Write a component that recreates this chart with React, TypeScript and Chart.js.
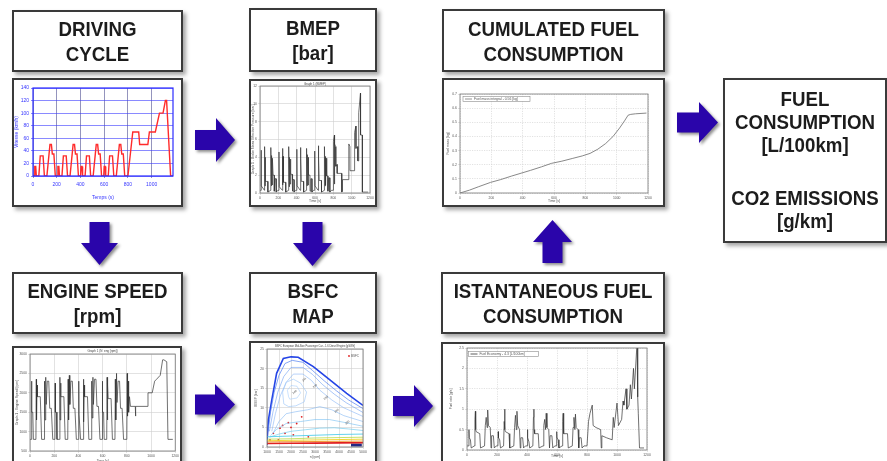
import React, { useEffect, useRef } from 'react';
import { Chart, registerables } from 'chart.js';

Chart.register(...registerables);

const FONT = '"Liberation Sans", Arial, Helvetica, sans-serif';

/* ---------------- DRIVING CYCLE (NEDC) ---------------- */
const cycleTime = [
  0, 11, 15, 23, 28, 49, 61, 85, 96, 117, 143, 155, 163, 176, 188,
  195, 206, 210, 218, 223, 244, 256, 280, 291, 312, 338, 350, 358, 371, 383,
  390, 401, 405, 413, 418, 439, 451, 475, 486, 507, 533, 545, 553, 566, 578,
  585, 596, 600, 608, 613, 634, 646, 670, 681, 702, 728, 740, 748, 761, 773,
  780, 800, 841, 891, 899, 968, 981, 1031, 1066, 1096, 1116, 1126, 1160, 1180,
];
const cycleSpeed = [
  0, 0, 15, 15, 0, 0, 32, 32, 0, 0, 50, 50, 35, 35, 0,
  0, 0, 15, 15, 0, 0, 32, 32, 0, 0, 50, 50, 35, 35, 0,
  0, 0, 15, 15, 0, 0, 32, 32, 0, 0, 50, 50, 35, 35, 0,
  0, 0, 15, 15, 0, 0, 32, 32, 0, 0, 50, 50, 35, 35, 0,
  0, 0, 70, 70, 50, 50, 70, 70, 100, 100, 120, 120, 0, 0,
];
const cycleXTicks = [0, 200, 400, 600, 800, 1000];
const cycleXLabels = ['0', '200', '400', '600', '800', '1000'];
const cycleYTicks = [0, 20, 40, 60, 80, 100, 120, 140];
const cycleYLabels = ['0', '20', '40', '60', '80', '100', '120', '140'];

/* ---------------- COMMON TIME AXIS ---------------- */
const timeTicks = [0, 200, 400, 600, 800, 1000, 1200];
const timeLabels = ['0', '200', '400', '600', '800', '1000', '1200'];

/* ---------------- BMEP ---------------- */
const bmepTime = [
  0, 11, 12, 15, 49, 50, 55, 56, 61, 85, 86, 117, 118, 125, 126, 134, 135, 143, 155, 156, 164, 176, 177,
  195, 206, 207, 210, 244, 245, 250, 251, 256, 280, 281, 312, 313, 320, 321, 329, 330, 338, 350, 351, 359, 371, 372,
  390, 401, 402, 405, 439, 440, 445, 446, 451, 475, 476, 507, 508, 515, 516, 524, 525, 533, 545, 546, 554, 566, 567,
  585, 596, 597, 600, 634, 635, 640, 641, 646, 670, 671, 702, 703, 710, 711, 719, 720, 728, 740, 741, 749, 761, 762,
  780, 800, 801, 812, 813, 814, 826, 827, 841, 842, 891, 892, 899, 900, 968, 969, 981, 982, 1031, 1032, 1046, 1047, 1066, 1067, 1076, 1077, 1096, 1097, 1116, 1117, 1180,
];
const bmepBar = [
  0.3, 0.3, 4.8, 0.8, 0.3, 5.2, 0.8, 4.0, 1.3, 1.3, 0.1, 0.3, 5.1, 0.8, 4.2, 0.9, 3.9, 2.0, 2.0, 0.2, 1.6, 1.6, 0.1,
  0.3, 0.3, 4.6, 0.7, 0.3, 5.0, 0.9, 4.1, 1.2, 1.2, 0.1, 0.3, 5.2, 0.7, 4.0, 1.0, 3.8, 2.1, 2.1, 0.2, 1.5, 1.5, 0.1,
  0.3, 0.3, 4.9, 0.8, 0.3, 5.1, 0.8, 3.9, 1.3, 1.3, 0.1, 0.3, 5.0, 0.8, 4.3, 0.9, 4.0, 2.0, 2.0, 0.2, 1.6, 1.6, 0.1,
  0.3, 0.3, 4.7, 0.8, 0.3, 5.3, 0.8, 4.0, 1.4, 1.4, 0.1, 0.3, 5.2, 0.8, 4.1, 0.9, 3.9, 1.9, 1.9, 0.2, 1.7, 1.7, 0.1,
  0.3, 0.3, 5.8, 6.5, 1.0, 5.5, 5.2, 3.0, 3.2, 2.2, 2.2, 0.1, 0.2, 1.5, 1.5, 5.5, 5.2, 2.5, 2.5, 6.8, 7.5, 5.0, 5.2, 3.6, 3.6, 9.0, 11.2, 6.5, 6.5, 0.1, 0.1,
];
const bmepYTicks = [0, 2, 4, 6, 8, 10, 12];
const bmepYLabels = ['0', '2', '4', '6', '8', '10', '12'];

/* ---------------- CUMULATED FUEL ---------------- */
const cumTime = [0, 60, 120, 195, 260, 330, 390, 450, 520, 585, 650, 720, 780, 830, 880, 930, 977, 1019, 1050, 1073, 1090, 1120, 1190];
const cumFuelKg = [0, 0.02, 0.045, 0.075, 0.095, 0.12, 0.14, 0.16, 0.185, 0.21, 0.225, 0.245, 0.262, 0.28, 0.31, 0.35, 0.4, 0.46, 0.51, 0.55, 0.556, 0.56, 0.565];
const cumYTicks = [0, 0.1, 0.2, 0.3, 0.4, 0.5, 0.6, 0.7];
const cumYLabels = ['0', '0.1', '0.2', '0.3', '0.4', '0.5', '0.6', '0.7'];

/* ---------------- ENGINE SPEED ---------------- */
const engTime = [
  0, 11, 13, 15, 23, 28, 49, 52, 54, 58, 61, 85, 96, 117, 120, 124, 130, 134, 143, 155, 163, 176, 188,
  195, 206, 208, 210, 218, 223, 244, 247, 249, 253, 256, 280, 291, 312, 315, 319, 325, 329, 338, 350, 358, 371, 383,
  390, 401, 403, 405, 413, 418, 439, 442, 444, 448, 451, 475, 486, 507, 510, 514, 520, 524, 533, 545, 553, 566, 578,
  585, 596, 598, 600, 608, 613, 634, 637, 639, 643, 646, 670, 681, 702, 705, 709, 715, 719, 728, 740, 748, 761, 773,
  780, 800, 803, 806, 812, 815, 822, 830, 870, 872, 874, 968, 975, 1010, 1030, 1046, 1076, 1096, 1106, 1130, 1140, 1180,
];
const engRpm = [
  800, 800, 2300, 1500, 1500, 800, 800, 2350, 1300, 2200, 1900, 1900, 800, 800, 2300, 1300, 2400, 1700, 2300, 2300, 1600, 1600, 800,
  800, 800, 2250, 1500, 1500, 800, 800, 2400, 1300, 2250, 1900, 1900, 800, 800, 2350, 1300, 2450, 1700, 2300, 2300, 1600, 1600, 800,
  800, 800, 2300, 1450, 1450, 800, 800, 2350, 1250, 2200, 1900, 1900, 800, 800, 2300, 1350, 2400, 1700, 2350, 2350, 1650, 1650, 800,
  800, 800, 2300, 1500, 1500, 800, 800, 2400, 1300, 2200, 1850, 1850, 800, 800, 2350, 1300, 2500, 1750, 2300, 2300, 1600, 1600, 800,
  800, 800, 2500, 1400, 2300, 1500, 1900, 1650, 1650, 1400, 1650, 1650, 2000, 2000, 2300, 2350, 2450, 2850, 2850, 2800, 800, 800,
];
const engYTicks = [500, 1000, 1500, 2000, 2500, 3000];
const engYLabels = ['500', '1000', '1500', '2000', '2500', '3000'];

/* ---------------- BSFC MAP ---------------- */
const fullLoadRpm = [1000, 1000, 1060, 1200, 1400, 1680, 2000, 2300, 2930, 3620, 4320, 5000];
const fullLoadBmep = [0.5, 1.4, 6.9, 12, 18.8, 22.6, 23, 22.9, 20.5, 17.1, 13.7, 10.6];
const iso1Rpm = [1050, 1150, 1300, 1500, 1750, 2050, 2500, 2900, 3400, 3900, 4400, 5000];
const iso1Bmep = [4, 9, 14, 18.3, 21.3, 22.1, 21.6, 19.5, 16.8, 14.3, 12, 9.8];
const iso2Rpm = [1100, 1250, 1450, 1700, 2000, 2500, 2900, 3300, 3800, 4300, 5000];
const iso2Bmep = [4, 9, 14, 18, 20.3, 20.3, 18.5, 16, 13.5, 11.3, 8.8];
const iso3Rpm = [1200, 1350, 1550, 1800, 2100, 2500, 2850, 3200, 3700, 4200, 5000];
const iso3Bmep = [4, 8.5, 13, 16.5, 18.6, 18.6, 17, 14.5, 12, 10, 7.8];
const iso4Rpm = [1700, 1650, 1800, 2100, 2400, 2650, 2550, 2200, 1900, 1700];
const iso4Bmep = [11, 14, 16.5, 17.3, 16.3, 14, 11.5, 10.5, 10.3, 11];
const iso5Rpm = [1900, 1850, 2000, 2250, 2400, 2250, 1950, 1900];
const iso5Bmep = [12.8, 14.5, 15.7, 15.5, 13.8, 12.5, 12.2, 12.8];
const iso6Rpm = [1250, 1500, 1800, 2200, 2700, 3200, 3700, 4200, 5000];
const iso6Bmep = [3.5, 6.5, 8.5, 9, 9.5, 10.3, 9.5, 8, 6.5];
const iso7Rpm = [1150, 1400, 1800, 2400, 3000, 3600, 4200, 5000];
const iso7Bmep = [2.9, 4.5, 6, 6.5, 7, 7, 6.3, 5.3];
const iso8Rpm = [1100, 1500, 2000, 2600, 3200, 3800, 4400, 5000];
const iso8Bmep = [2.5, 3.3, 4, 4.4, 4.8, 4.9, 4.6, 4.2];
const lowRpm = [1000, 2000, 3000, 4000, 5000];
const lowCyanBmep = [2.6, 2.8, 3.0, 3.2, 3.3];
const lowGreenBmep = [2.0, 2.1, 2.3, 2.4, 2.5];
const lowYellowBmep = [1.6, 1.7, 1.8, 1.9, 2.0];
const lowOrangeBmep = [1.3, 1.35, 1.4, 1.45, 1.5];
const lowRedBmep = [0.9, 0.95, 1.0, 1.05, 1.1];
const idleBandRpm = [4500, 4950];
const idleBandBmep = [0.5, 0.5];
const pointRpm = [1125, 1264, 1472, 1542, 1750, 1889, 2097, 2236, 2445, 2722, 2000, 1650];
const pointBmep = [1.8, 3.5, 1.8, 4.8, 3.5, 6.2, 3.1, 6.0, 7.7, 2.6, 5.0, 5.5];
const isoLabelText = ['240', '245', '250', '260', '280', '300'];
const isoLabelRpm = [2150, 2550, 3000, 3450, 3900, 4350];
const isoLabelBmep = [14, 17.2, 15.5, 12.5, 9.2, 6.2];
const mapXTicks = [1000, 1500, 2000, 2500, 3000, 3500, 4000, 4500, 5000];
const mapXLabels = ['1000', '1500', '2000', '2500', '3000', '3500', '4000', '4500', '5000'];
const mapYTicks = [0, 5, 10, 15, 20, 25];
const mapYLabels = ['0', '5', '10', '15', '20', '25'];

/* ---------------- INSTANTANEOUS FUEL ---------------- */
const instTime = [
  0, 11, 13, 15, 23, 28, 49, 53, 56, 58, 61, 85, 90, 117, 122, 128, 134, 138, 143, 155, 160, 164, 176, 182,
  195, 206, 208, 210, 218, 223, 244, 248, 251, 253, 256, 280, 285, 312, 317, 323, 329, 333, 338, 350, 355, 359, 371, 377,
  390, 401, 403, 405, 413, 418, 439, 443, 446, 448, 451, 475, 480, 507, 512, 518, 524, 528, 533, 545, 550, 554, 566, 572,
  585, 596, 598, 600, 608, 613, 634, 638, 641, 643, 646, 670, 675, 702, 707, 713, 719, 723, 728, 740, 745, 749, 761, 767,
  780, 800, 810, 820, 835, 841, 860, 891, 895, 899, 930, 968, 975, 981, 1000, 1010, 1031, 1040, 1046, 1060, 1066, 1080, 1089, 1096, 1110, 1116, 1130, 1134, 1138, 1142, 1150, 1180,
];
const instRate = [
  0.1, 0.1, 0.5, 0.3, 0.25, 0.05, 0.1, 0.75, 0.95, 0.5, 0.45, 0.4, 0.05, 0.1, 0.6, 0.8, 0.55, 0.98, 0.6, 0.55, 0.05, 0.35, 0.35, 0.05,
  0.1, 0.1, 0.45, 0.3, 0.25, 0.05, 0.1, 0.7, 1.0, 0.5, 0.45, 0.4, 0.05, 0.1, 0.55, 0.85, 0.5, 0.95, 0.6, 0.5, 0.05, 0.3, 0.3, 0.05,
  0.1, 0.1, 0.5, 0.3, 0.2, 0.05, 0.1, 0.8, 1.0, 0.5, 0.4, 0.4, 0.05, 0.1, 0.6, 0.75, 0.5, 0.9, 0.55, 0.5, 0.05, 0.35, 0.35, 0.05,
  0.1, 0.1, 0.45, 0.3, 0.25, 0.05, 0.1, 0.7, 0.9, 0.45, 0.4, 0.4, 0.05, 0.1, 0.55, 0.8, 0.5, 0.88, 0.55, 0.5, 0.05, 0.3, 0.3, 0.05,
  0.1, 0.1, 0.7, 0.9, 1.1, 0.6, 0.55, 0.5, 0.05, 0.35, 0.3, 0.25, 0.8, 0.55, 1.15, 0.6, 0.75, 1.2, 1.1, 1.5, 1.0, 1.1, 1.6, 1.25, 2.0, 1.5, 2.4, 2.55, 1.3, 0.9, 0.05, 0.05,
];
const instYTicks = [0, 0.5, 1, 1.5, 2, 2.5];
const instYLabels = ['0', '0.5', '1', '1.5', '2', '2.5'];

/* ---------------- helpers ---------------- */
const xy = (xs: number[], ys: number[]) => xs.map((x, i) => ({ x, y: ys[i] }));

const line = (xs: number[], ys: number[], color: string, width: number) => ({
  data: xy(xs, ys),
  showLine: true,
  borderColor: color,
  backgroundColor: color,
  borderWidth: width,
  pointRadius: 0,
  fill: false,
  tension: 0,
});

type Plot = { l: number; t: number; r: number; b: number };
type Style = {
  tick: string; gridX: string; gridY: string; frame: string; frameW: number;
  fs: number; dash: number[]; padX: number; padY: number; titleX: number; titleY: number;
};
type AxisSpec = { min: number; max: number; ticks: number[]; labels: string[]; title: string };

function axis(kind: 'x' | 'y', a: AxisSpec, st: Style, fit: (s: any) => void) {
  return {
    type: 'linear',
    position: kind === 'x' ? 'bottom' : 'left',
    min: a.min,
    max: a.max,
    afterBuildTicks: (s: any) => { s.ticks = a.ticks.map((v) => ({ value: v })); },
    afterFit: fit,
    ticks: {
      color: st.tick,
      font: { size: st.fs, family: FONT },
      padding: kind === 'x' ? st.padX : st.padY,
      autoSkip: false,
      maxRotation: 0,
      minRotation: 0,
      callback: (_v: any, i: number) => a.labels[i],
    },
    grid: { color: kind === 'x' ? st.gridX : st.gridY, lineWidth: 0.6, tickLength: 2 },
    border: { display: false, dash: st.dash },
    title: {
      display: a.title !== '',
      text: a.title,
      color: st.tick,
      font: { size: st.fs, family: FONT },
      padding: kind === 'x' ? { top: 0, bottom: st.titleX } : { top: st.titleY, bottom: 0 },
    },
  };
}

function txt(ctx: CanvasRenderingContext2D, s: string, x: number, y: number, size: number, color: string, align: CanvasTextAlign = 'center', rot = 0) {
  ctx.save();
  ctx.translate(x, y);
  if (rot) ctx.rotate(rot);
  ctx.font = `${size}px ${FONT}`;
  ctx.fillStyle = color;
  ctx.textAlign = align;
  ctx.textBaseline = 'middle';
  ctx.fillText(s, 0, 0);
  ctx.restore();
}

function legendBox(ctx: CanvasRenderingContext2D, x: number, y: number, w: number, h: number, label: string, color: string) {
  ctx.save();
  ctx.fillStyle = '#fff';
  ctx.fillRect(x, y, w, h);
  ctx.strokeStyle = '#8a8a8a';
  ctx.lineWidth = 0.6;
  ctx.strokeRect(x, y, w, h);
  ctx.strokeStyle = color;
  ctx.lineWidth = 0.8;
  ctx.beginPath();
  ctx.moveTo(x + 2, y + h / 2);
  ctx.lineTo(x + 9, y + h / 2);
  ctx.stroke();
  ctx.restore();
  txt(ctx, label, x + 11, y + h / 2, 3.4, '#555', 'left');
}

function makeConfig(w: number, h: number, p: Plot, datasets: any[], xs: AxisSpec, ys: AxisSpec, st: Style, decor?: (c: any) => void) {
  return {
    type: 'scatter',
    data: { datasets },
    options: {
      responsive: false,
      animation: false,
      devicePixelRatio: 1,
      events: [],
      layout: { padding: { left: 0, top: p.t, right: w - p.r, bottom: 0 }, autoPadding: false },
      plugins: { legend: { display: false }, tooltip: { enabled: false } },
      scales: {
        x: axis('x', xs, st, (s: any) => { s.height = h - p.b; }),
        y: axis('y', ys, st, (s: any) => { s.width = p.l; }),
      },
    },
    plugins: [
      {
        id: 'decor',
        afterDraw(c: any) {
          const a = c.chartArea;
          const ctx = c.ctx;
          ctx.save();
          ctx.strokeStyle = st.frame;
          ctx.lineWidth = st.frameW;
          ctx.strokeRect(a.left, a.top, a.right - a.left, a.bottom - a.top);
          ctx.restore();
          if (decor) decor(c);
        },
      },
    ],
  } as any;
}

function MiniChart({ left, top, width, height, make }: { left: number; top: number; width: number; height: number; make: (w: number, h: number) => any }) {
  const ref = useRef<HTMLCanvasElement>(null);
  useEffect(() => {
    const chart = new Chart(ref.current as HTMLCanvasElement, make(width, height));
    return () => chart.destroy();
  }, []);
  return (
    <canvas
      ref={ref}
      width={width}
      height={height}
      style={{ position: 'absolute', left, top, width, height, display: 'block' }}
    />
  );
}

/* ---------------- chart builders ---------------- */
const grayStyle = (dash: number[], titleX: number, titleY: number): Style => ({
  tick: '#555', gridX: '#cfcfcf', gridY: '#cfcfcf', frame: '#777', frameW: 0.8,
  fs: 3.4, dash, padX: 1, padY: 1, titleX, titleY,
});

const buildCycle = (w: number, h: number) =>
  makeConfig(
    w, h, { l: 19, t: 8, r: 159, b: 96 },
    [line(cycleTime, cycleSpeed, '#ff2b2b', 1.4)],
    { min: 0, max: 1180, ticks: cycleXTicks, labels: cycleXLabels, title: 'Temps (s)' },
    { min: 0, max: 140, ticks: cycleYTicks, labels: cycleYLabels, title: 'Vitesse (km/h)' },
    { tick: '#3535ff', gridX: '#4c4c90', gridY: '#3b3bff', frame: '#2c2cff', frameW: 1.2, fs: 5, dash: [], padX: 4, padY: 2, titleX: 4, titleY: 0 },
  );

const buildBmep = (w: number, h: number) =>
  makeConfig(
    w, h, { l: 9, t: 5, r: 119, b: 112 },
    [line(bmepTime, bmepBar, '#333', 0.7)],
    { min: 0, max: 1200, ticks: timeTicks, labels: timeLabels, title: 'Time [s]' },
    { min: 0, max: 12, ticks: bmepYTicks, labels: bmepYLabels, title: 'Graph 1 - Brake Mean Effective Pressure [bar]' },
    grayStyle([], 2, 0),
    (c) => {
      const a = c.chartArea;
      txt(c.ctx, 'Graph 1 (BMEP)', (a.left + a.right) / 2, a.top - 2.3, 3, '#444');
    },
  );

const buildCum = (w: number, h: number) =>
  makeConfig(
    w, h, { l: 16, t: 14, r: 204, b: 113 },
    [line(cumTime, cumFuelKg, '#7a7a7a', 0.9)],
    { min: 0, max: 1200, ticks: timeTicks, labels: timeLabels, title: 'Time [s]' },
    { min: 0, max: 0.7, ticks: cumYTicks, labels: cumYLabels, title: 'Fuel mass [kg]' },
    grayStyle([1.2, 1.2], 2, 2),
    (c) => {
      const a = c.chartArea;
      legendBox(c.ctx, a.left + 3, a.top + 2.5, 67, 5, 'Fuel mass integral - 0.56 [kg]', '#7a7a7a');
    },
  );

const buildEngine = (w: number, h: number) =>
  makeConfig(
    w, h, { l: 16, t: 6, r: 163, b: 103 },
    [line(engTime, engRpm, '#333', 0.7)],
    { min: 0, max: 1200, ticks: timeTicks, labels: timeLabels, title: 'Time [s]' },
    { min: 500, max: 3000, ticks: engYTicks, labels: engYLabels, title: 'Graph 1 - Engine Speed [rpm]' },
    grayStyle([], 10, 1),
    (c) => {
      const a = c.chartArea;
      txt(c.ctx, 'Graph 1 (N_eng [rpm])', (a.left + a.right) / 2, a.top - 3, 3, '#444');
    },
  );

const buildBsfc = (w: number, h: number) =>
  makeConfig(
    w, h, { l: 16, t: 6, r: 112, b: 104 },
    [
      line(lowRpm, lowCyanBmep, '#3cc8e8', 0.8),
      line(lowRpm, lowGreenBmep, '#b8dc48', 0.8),
      line(lowRpm, lowYellowBmep, '#f2d21e', 0.9),
      line(lowRpm, lowOrangeBmep, '#f08a20', 0.9),
      line(lowRpm, lowRedBmep, '#e02020', 1.6),
      line(idleBandRpm, idleBandBmep, '#232a86', 3),
      line(iso8Rpm, iso8Bmep, '#62c6ec', 0.6),
      line(iso7Rpm, iso7Bmep, '#74bdf2', 0.6),
      line(iso6Rpm, iso6Bmep, '#84b8f4', 0.6),
      line(iso5Rpm, iso5Bmep, '#a8cffb', 0.6),
      line(iso4Rpm, iso4Bmep, '#98c4f8', 0.6),
      line(iso3Rpm, iso3Bmep, '#88b6f6', 0.6),
      line(iso2Rpm, iso2Bmep, '#6e9ff3', 0.6),
      line(iso1Rpm, iso1Bmep, '#527ff0', 0.7),
      line(fullLoadRpm, fullLoadBmep, '#2444e6', 1.6),
      {
        data: xy(pointRpm, pointBmep),
        showLine: false,
        pointRadius: 0.9,
        pointBackgroundColor: '#e02020',
        pointBorderColor: '#e02020',
        pointBorderWidth: 0,
      },
    ],
    { min: 1000, max: 5000, ticks: mapXTicks, labels: mapXLabels, title: 'n [rpm]' },
    { min: 0, max: 25, ticks: mapYTicks, labels: mapYLabels, title: 'BMEP [bar]' },
    grayStyle([], 14, 3),
    (c) => {
      const a = c.chartArea;
      const ctx = c.ctx;
      txt(ctx, 'BSFC European Mid-Size Passenger Car - 1.6 Diesel Engine [g/kWh]', (a.left + a.right) / 2, a.top - 3, 2.6, '#444');
      ctx.save();
      ctx.fillStyle = '#e02020';
      ctx.beginPath();
      ctx.arc(a.right - 14, a.top + 7, 0.9, 0, Math.PI * 2);
      ctx.fill();
      ctx.restore();
      txt(ctx, 'BSFC', a.right - 12, a.top + 7, 3, '#555', 'left');
      isoLabelText.forEach((s, i) => {
        txt(ctx, s, c.scales.x.getPixelForValue(isoLabelRpm[i]), c.scales.y.getPixelForValue(isoLabelBmep[i]), 2.8, '#555', 'center', -0.7);
      });
    },
  );

const buildInst = (w: number, h: number) =>
  makeConfig(
    w, h, { l: 24, t: 4, r: 204, b: 106 },
    [line(instTime, instRate, '#333', 0.7)],
    { min: 0, max: 1200, ticks: timeTicks, labels: timeLabels, title: 'Time [s]' },
    { min: 0, max: 2.5, ticks: instYTicks, labels: instYLabels, title: 'Fuel rate [g/s]' },
    grayStyle([1.2, 1.2], 15, 6),
    (c) => {
      const a = c.chartArea;
      legendBox(c.ctx, a.left + 1.5, a.top + 3.5, 70, 5, 'Fuel Economy - 4.3 [L/100km]', '#333');
    },
  );

/* ---------------- layout components ---------------- */
const boxStyle = (x1: number, y1: number, x2: number, y2: number): React.CSSProperties => ({
  position: 'absolute',
  left: x1,
  top: y1,
  width: x2 - x1,
  height: y2 - y1,
  boxSizing: 'border-box',
  border: '2px solid #3a3a3a',
  background: '#fff',
  boxShadow: '3px 3px 4px rgba(0,0,0,0.35)',
});

const titleLine: React.CSSProperties = { display: 'block', transform: 'scaleY(1.1)' };

function TitleBox({ x1, y1, x2, y2, lines }: { x1: number; y1: number; x2: number; y2: number; lines: string[] }) {
  return (
    <div style={boxStyle(x1, y1, x2, y2)}>
      <div
        style={{
          height: '100%',
          display: 'flex',
          flexDirection: 'column',
          alignItems: 'center',
          justifyContent: 'center',
          fontFamily: FONT,
          fontWeight: 'bold',
          fontSize: 18.7,
          lineHeight: '25px',
          color: '#1c1c1c',
          textAlign: 'center',
        }}
      >
        {lines.map((l) => (
          <div key={l} style={titleLine}>{l}</div>
        ))}
      </div>
    </div>
  );
}

function ChartBox({ x1, y1, x2, y2, make }: { x1: number; y1: number; x2: number; y2: number; make: (w: number, h: number) => any }) {
  return (
    <div style={boxStyle(x1, y1, x2, y2)}>
      <MiniChart left={0} top={0} width={x2 - x1 - 4} height={y2 - y1 - 4} make={make} />
    </div>
  );
}

function Arrow({ x, y, w, h, dir, neck }: { x: number; y: number; w: number; h: number; dir: 'right' | 'down' | 'up'; neck: number }) {
  const s = 10;
  let pts: number[][];
  if (dir === 'right') {
    const cy = h / 2;
    pts = [[0, cy - s], [neck, cy - s], [neck, 0], [w, cy], [neck, h], [neck, cy + s], [0, cy + s]];
  } else if (dir === 'down') {
    const cx = w / 2;
    pts = [[cx - s, 0], [cx + s, 0], [cx + s, neck], [w, neck], [cx, h], [0, neck], [cx - s, neck]];
  } else {
    const cx = w / 2;
    pts = [[cx, 0], [w, neck], [cx + s, neck], [cx + s, h], [cx - s, h], [cx - s, neck], [0, neck]];
  }
  return (
    <svg
      width={w}
      height={h}
      style={{ position: 'absolute', left: x, top: y, overflow: 'visible', filter: 'drop-shadow(2px 2px 1.5px rgba(0,0,0,0.45))' }}
    >
      <polygon points={pts.map((p) => p.join(',')).join(' ')} fill="#2a05aa" />
    </svg>
  );
}

export default function App() {
  return (
    <div style={{ position: 'absolute', left: 0, top: 0, width: 887, height: 461, overflow: 'hidden', background: '#fff' }}>
      <TitleBox x1={12} y1={10} x2={183} y2={72} lines={['DRIVING', 'CYCLE']} />
      <TitleBox x1={249} y1={8} x2={377} y2={72} lines={['BMEP', '[bar]']} />
      <TitleBox x1={442} y1={9} x2={665} y2={72} lines={['CUMULATED FUEL', 'CONSUMPTION']} />
      <TitleBox x1={12} y1={272} x2={183} y2={334} lines={['ENGINE SPEED', '[rpm]']} />
      <TitleBox x1={249} y1={272} x2={377} y2={334} lines={['BSFC', 'MAP']} />
      <TitleBox x1={441} y1={272} x2={665} y2={334} lines={['ISTANTANEOUS FUEL', 'CONSUMPTION']} />

      <div style={boxStyle(723, 78, 887, 243)}>
        <div
          style={{
            position: 'absolute',
            left: 0,
            right: 0,
            top: 7,
            fontFamily: FONT,
            fontWeight: 'bold',
            fontSize: 18.7,
            lineHeight: '23px',
            color: '#1c1c1c',
            textAlign: 'center',
          }}
        >
          <div style={titleLine}>FUEL</div>
          <div style={titleLine}>CONSUMPTION</div>
          <div style={titleLine}>[L/100km]</div>
          <div style={{ height: 30 }} />
          <div style={titleLine}>CO2 EMISSIONS</div>
          <div style={titleLine}>[g/km]</div>
        </div>
      </div>

      <ChartBox x1={12} y1={78} x2={183} y2={207} make={buildCycle} />
      <ChartBox x1={249} y1={79} x2={377} y2={207} make={buildBmep} />
      <ChartBox x1={442} y1={78} x2={665} y2={207} make={buildCum} />
      <ChartBox x1={12} y1={346} x2={182} y2={475} make={buildEngine} />
      <ChartBox x1={249} y1={341} x2={377} y2={475} make={buildBsfc} />
      <ChartBox x1={441} y1={342} x2={665} y2={475} make={buildInst} />

      <Arrow x={195} y={118} w={40} h={44} neck={21} dir="right" />
      <Arrow x={195} y={384} w={40} h={41} neck={20} dir="right" />
      <Arrow x={393} y={385} w={40} h={42} neck={21} dir="right" />
      <Arrow x={677} y={102} w={41} h={41} neck={22} dir="right" />
      <Arrow x={81} y={222} w={37} h={43} neck={21} dir="down" />
      <Arrow x={293} y={222} w={39} h={44} neck={21} dir="down" />
      <Arrow x={533} y={220} w={39} h={43} neck={22} dir="up" />
    </div>
  );
}
